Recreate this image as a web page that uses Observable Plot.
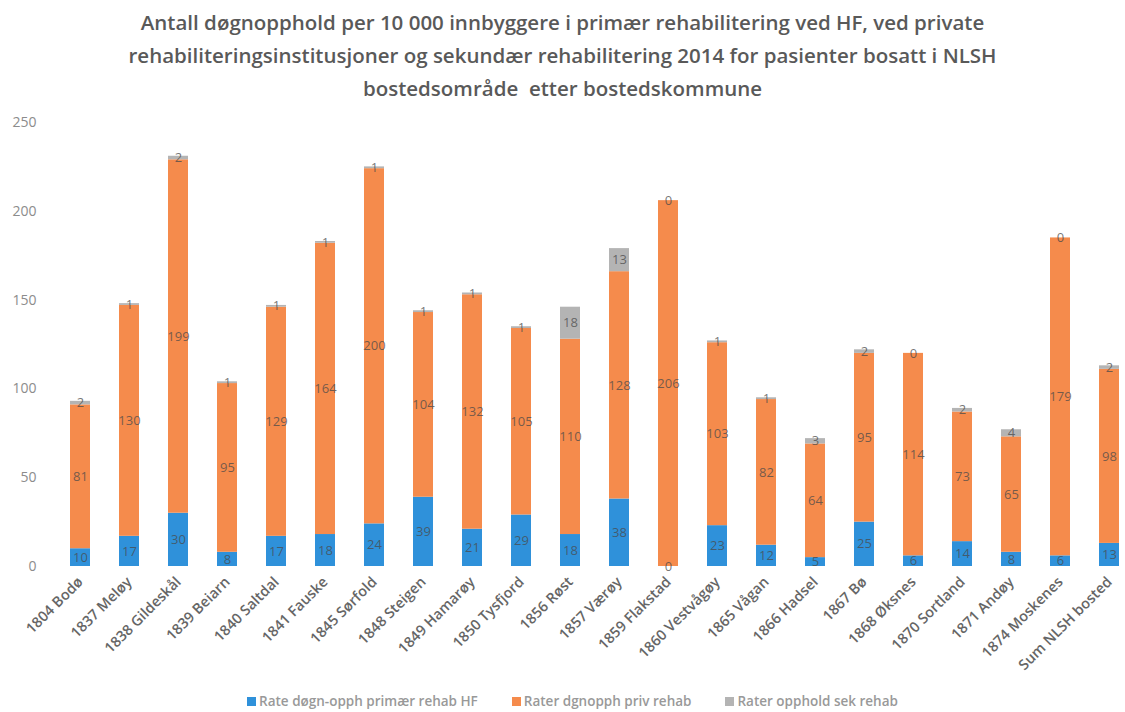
<!DOCTYPE html>
<html>
<head>
<meta charset="utf-8">
<script src="https://cdn.jsdelivr.net/npm/d3@7"></script>
<script src="https://cdn.jsdelivr.net/npm/@observablehq/plot@0.6"></script>
<style>
  html, body { margin: 0; padding: 0; background: #fff; }
  body { width: 1125px; height: 712px; overflow: hidden; font-family: "Open Sans", sans-serif; }
  #title { height: 105px; box-sizing: border-box; padding-top: 6px; text-align: center; color: #595959;
           font-size: 20.5px; font-weight: 600; line-height: 33px; }
  #legend { display: flex; justify-content: center; gap: 34px; font-size: 13.5px; font-weight: 600; color: #999; margin-top: 7px; margin-left: 20px; }
  #legend span.sw { display: inline-block; width: 9px; height: 9px; margin-right: 3px; vertical-align: 0px; }
</style>
</head>
<body>
<div id="title">Antall døgnopphold per 10 000 innbyggere i primær rehabilitering ved HF, ved private<br>rehabiliteringsinstitusjoner og sekundær rehabilitering 2014 for pasienter bosatt i NLSH<br>bostedsområde&nbsp; etter bostedskommune</div>
<div id="chart"></div>
<div id="legend"></div>
<script>
const categories = ["1804 Bodø","1837 Meløy","1838 Gildeskål","1839 Beiarn","1840 Saltdal","1841 Fauske","1845 Sørfold","1848 Steigen","1849 Hamarøy","1850 Tysfjord","1856 Røst","1857 Værøy","1859 Flakstad","1860 Vestvågøy","1865 Vågan","1866 Hadsel","1867 Bø","1868 Øksnes","1870 Sortland","1871 Andøy","1874 Moskenes","Sum NLSH bosted"];
const primaerHF = [10,17,30,8,17,18,24,39,21,29,18,38,0,23,12,5,25,6,14,8,6,13];
const privRehab = [81,130,199,95,129,164,200,104,132,105,110,128,206,103,82,64,95,114,73,65,179,98];
const sekRehab  = [2,1,2,1,1,1,1,1,1,1,18,13,0,1,1,3,2,0,2,4,0,2];
const seriesNames = ["Rate døgn-opph primær rehab HF","Rater dgnopph priv rehab","Rater opphold sek rehab"];
const seriesColors = ["#2f91da","#f58b4c","#b4b4b4"];
const yTicks = [0,50,100,150,200,250];

const rows = [];
categories.forEach((c, i) => {
  [primaerHF, privRehab, sekRehab].forEach((arr, s) => {
    rows.push({cat: c, series: seriesNames[s], value: arr[i]});
  });
});

const chart = Plot.plot({
  width: 1125,
  height: 580,
  marginLeft: 66,
  marginRight: 3,
  marginTop: 17,
  marginBottom: 119,
  style: {fontFamily: "Open Sans, sans-serif", background: "#fff"},
  x: {domain: categories, paddingInner: 0.6, paddingOuter: 0, label: null},
  y: {domain: [0, 250], label: null},
  color: {domain: seriesNames, range: seriesColors},
  marks: [
    Plot.axisY({ticks: yTicks, tickSize: 0, tickPadding: 30, fontSize: 14, fill: "#8c8c8c", label: null}),
    Plot.axisX({tickSize: 0, tickRotate: -45, tickPadding: 13, fontSize: 14.5, fontWeight: 600, fill: "#666", label: null}),
    Plot.barY(rows, {x: "cat", y: "value", fill: "series", order: seriesNames}),
    Plot.text(rows, Plot.stackY({x: "cat", y: "value", z: "series", order: seriesNames,
      text: d => d.value, fill: "#4a4a4a", fillOpacity: 0.75, fontSize: 13})),
  ]
});
document.getElementById("chart").appendChild(chart);

const legend = document.getElementById("legend");
seriesNames.forEach((n, i) => {
  const item = document.createElement("div");
  item.innerHTML = `<span class="sw" style="background:${seriesColors[i]}"></span>${n}`;
  legend.appendChild(item);
});
</script>
</body>
</html>
